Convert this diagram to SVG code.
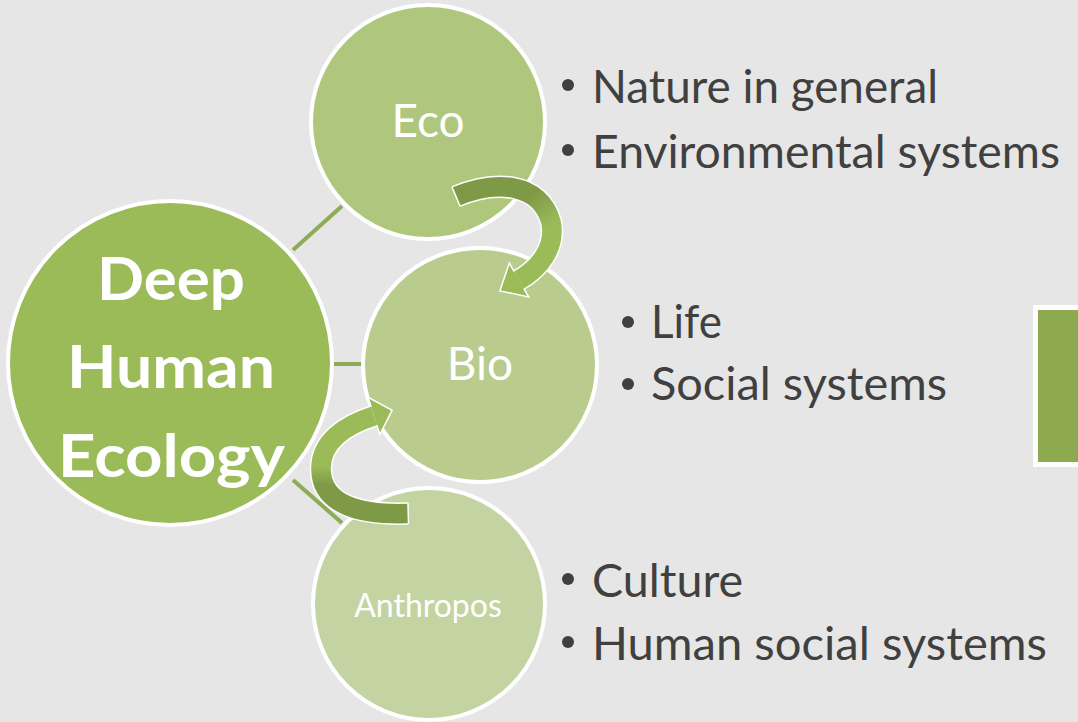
<svg xmlns="http://www.w3.org/2000/svg" width="1078" height="722" viewBox="0 0 1078 722">
  <defs>
    <style>
      .node { stroke: #ffffff; stroke-width: 4; }
      .link { stroke: #8eab56; stroke-width: 4; fill: none; }
      .lbl { font-family: Lato, "Open Sans", "Liberation Sans", sans-serif; fill: #ffffff; text-anchor: middle; }
      .title { font-family: Lato, "Open Sans", "Liberation Sans", sans-serif; font-weight: 700; font-size: 60px; fill: #ffffff; text-anchor: middle; }
      .item { font-family: Lato, "Open Sans", "Liberation Sans", sans-serif; font-size: 46px; fill: #404040; }
      .dot { fill: #404040; }
      .band-bg { fill: none; stroke: #ffffff; stroke-width: 22.5; stroke-linecap: butt; }
      .edge { fill: none; stroke: #ffffff; stroke-width: 1.5; stroke-linejoin: miter; }
    </style>
    <linearGradient id="gTop" gradientUnits="userSpaceOnUse" x1="535" y1="192" x2="556" y2="222">
      <stop offset="0" stop-color="#7e9a47"/>
      <stop offset="1" stop-color="#9bbb59"/>
    </linearGradient>
    <linearGradient id="gBot" gradientUnits="userSpaceOnUse" x1="0" y1="485" x2="0" y2="466">
      <stop offset="0" stop-color="#7e9a47"/>
      <stop offset="1" stop-color="#9bbb59"/>
    </linearGradient>
  </defs>

  <rect x="0" y="0" width="1078" height="722" fill="#e6e6e6"/>

  <g id="connectors">
    <line class="link" x1="293" y1="250" x2="342" y2="206"/>
    <line class="link" x1="330" y1="364" x2="364" y2="364"/>
    <line class="link" x1="293" y1="480" x2="342" y2="523"/>
  </g>

  <g id="node-main">
    <circle class="node" cx="170" cy="363" r="162" fill="#9bbb59"/>
    <text class="title" x="171" y="300" textLength="148" lengthAdjust="spacingAndGlyphs">Deep</text>
    <text class="title" x="171" y="388" textLength="208" lengthAdjust="spacingAndGlyphs">Human</text>
    <text class="title" x="171.5" y="477" textLength="227" lengthAdjust="spacingAndGlyphs">Ecology</text>
  </g>

  <g id="node-eco">
    <circle class="node" cx="428" cy="122" r="117" fill="#afc77d"/>
    <text class="lbl" x="428" y="137" font-size="46">Eco</text>
  </g>

  <g id="node-bio">
    <circle class="node" cx="480" cy="365" r="117" fill="#b9cc8e"/>
    <text class="lbl" x="480" y="380" font-size="46">Bio</text>
  </g>

  <g id="node-anthropos">
    <circle class="node" cx="429" cy="604" r="116" fill="#c3d4a2"/>
    <text class="lbl" x="428" y="617" font-size="32">Anthropos</text>
  </g>

  <g id="cycle-arrows">
    <g id="arrow-eco-bio">
      <path class="band-bg" d="M456,196.5 C495,180 540,182 551,222 C556,247 540,268 519,280"/>
      <path d="M456,196.5 C495,180 540,182 551,222 C556,247 540,268 519,280" fill="none" stroke="url(#gTop)" stroke-width="19.5"/>
      <polygon points="509.3,263.1 499.9,290.9 528.7,296.9" fill="#9bbb59"/>
      <path class="edge" d="M514.2,271.5 L509.3,263.1 L499.9,290.9 L528.7,296.9 L523.8,288.5"/>
      <line class="edge" x1="451.9" y1="186.8" x2="460.1" y2="206.2"/>
    </g>
    <g id="arrow-anthropos-bio">
      <path class="band-bg" d="M408,513.5 C360,515 322,505 321,470 C320,442 345,425 374,416"/>
      <path d="M408,513.5 C360,515 322,505 321,470 C320,442 345,425 374,416" fill="none" stroke="url(#gBot)" stroke-width="19.5"/>
      <polygon points="368.2,397.4 392.1,410.4 379.8,434.6" fill="#9bbb59"/>
      <path class="edge" d="M371.1,406.7 L368.2,397.4 L392.1,410.4 L379.8,434.6 L376.9,425.3"/>
      <line class="edge" x1="408" y1="503" x2="408.5" y2="524"/>
    </g>
  </g>

  <g id="list-eco">
    <circle class="dot" cx="568" cy="85" r="6"/>
    <text class="item" x="592" y="103" textLength="346" lengthAdjust="spacingAndGlyphs">Nature in general</text>
    <circle class="dot" cx="568" cy="150" r="6"/>
    <text class="item" x="592" y="168" textLength="468" lengthAdjust="spacingAndGlyphs">Environmental systems</text>
  </g>

  <g id="list-bio">
    <circle class="dot" cx="628" cy="322" r="6"/>
    <text class="item" x="651" y="338" textLength="71" lengthAdjust="spacingAndGlyphs">Life</text>
    <circle class="dot" cx="628" cy="384" r="6"/>
    <text class="item" x="651" y="400" textLength="296" lengthAdjust="spacingAndGlyphs">Social systems</text>
  </g>

  <g id="list-anthropos">
    <circle class="dot" cx="568" cy="579" r="6"/>
    <text class="item" x="592" y="597" textLength="151" lengthAdjust="spacingAndGlyphs">Culture</text>
    <circle class="dot" cx="568" cy="642" r="6"/>
    <text class="item" x="592" y="660" textLength="455" lengthAdjust="spacingAndGlyphs">Human social systems</text>
  </g>

  <g id="side-bar">
    <rect x="1035.5" y="307.5" width="50" height="157" fill="#8daa50" stroke="#ffffff" stroke-width="5"/>
  </g>
</svg>
